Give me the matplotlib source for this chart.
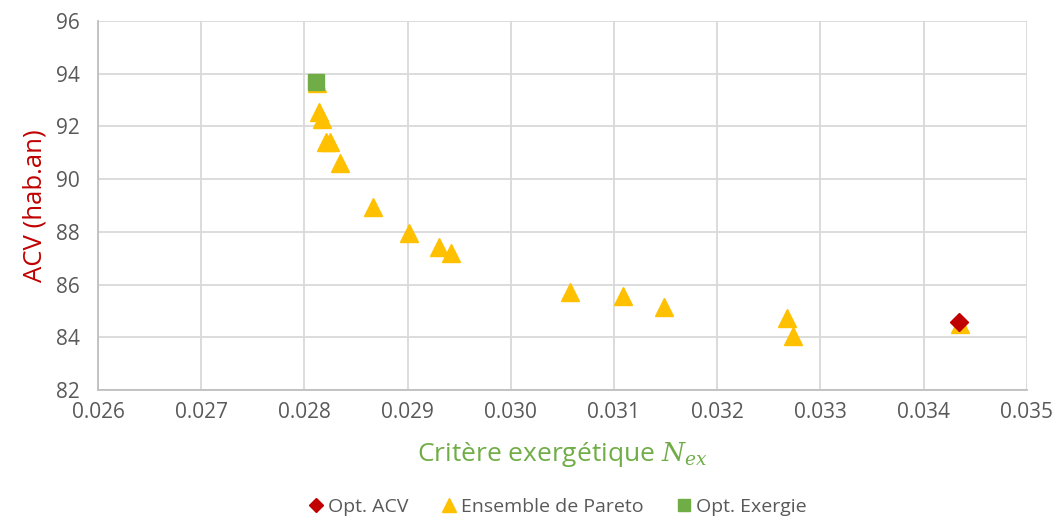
import matplotlib
matplotlib.use('Agg')
import matplotlib.pyplot as plt

plt.rcParams['font.family'] = ['Open Sans', 'DejaVu Sans']
plt.rcParams['mathtext.fontset'] = 'dejavuserif'

# front de Pareto
pareto_x = [0.02812, 0.028144, 0.028167, 0.028209, 0.028248, 0.028345, 0.028668,
            0.029014, 0.029304, 0.029417, 0.030574, 0.031084, 0.031484,
            0.032673, 0.032737, 0.03435]
pareto_y = [93.65, 92.55, 92.28, 91.41, 91.41, 90.61, 88.94,
            87.96, 87.43, 87.19, 85.73, 85.57, 85.16,
            84.72, 84.05, 84.52]
acv_x = [0.034346]
acv_y = [84.57]
exergie_x = [0.028112]
exergie_y = [93.69]

xticks = [0.026, 0.027, 0.028, 0.029, 0.030, 0.031, 0.032, 0.033, 0.034, 0.035]
yticks = [82, 84, 86, 88, 90, 92, 94, 96]

fig = plt.figure(figsize=(10.59, 5.20), dpi=100)
ax = fig.add_axes([0.0925, 0.25, 0.877, 0.71])

p, = ax.plot(pareto_x, pareto_y, ls='none', marker='^', ms=13, color='#FFC000',
             mec='#FFC000', label='Ensemble de Pareto', zorder=3)
a, = ax.plot(acv_x, acv_y, ls='none', marker='D', ms=9, color='#C00000',
             mec='#C00000', label='Opt. ACV', zorder=4)
e, = ax.plot(exergie_x, exergie_y, ls='none', marker='s', ms=11, color='#70AD47',
             mec='#70AD47', label='Opt. Exergie', zorder=4)

ax.set_xlim(0.026, 0.035)
ax.set_ylim(82, 96)
ax.set_xticks(xticks)
ax.set_xticklabels(['%.3f' % v for v in xticks])
ax.set_yticks(yticks)
ax.grid(True, color='#D9D9D9', lw=1.3)
ax.set_axisbelow(True)
for s in ['top', 'right']:
    ax.spines[s].set_visible(False)
for s in ['left', 'bottom']:
    ax.spines[s].set_color('#BFBFBF')
    ax.spines[s].set_linewidth(1.3)
ax.tick_params(length=0, labelsize=15, labelcolor='#595959')
ax.tick_params(axis='y', pad=13)
ax.tick_params(axis='x', pad=9)

ax.set_ylabel('ACV (hab.an)', color='#C00000', fontsize=18.5, labelpad=6)
ax.set_xlabel('Critère exergétique $N_{ex}$', color='#70AD47', fontsize=19, labelpad=12)

fig.legend(handles=[a, p, e], loc='lower center', bbox_to_anchor=(0.525, -0.025),
           ncol=3, frameon=False, fontsize=14, labelcolor='#595959',
           handletextpad=0.1, columnspacing=1.5, handlelength=1.1, markerscale=0.75)

fig.savefig('out.png', dpi=100)
